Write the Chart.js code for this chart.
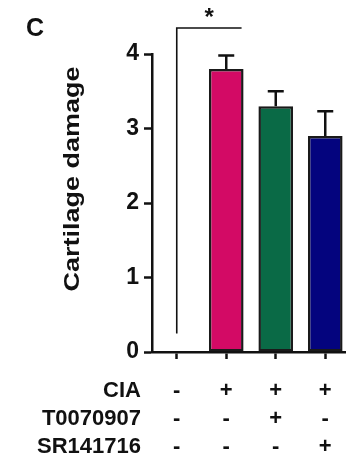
<!DOCTYPE html>
<html>
<head>
<meta charset="utf-8">
<script src="https://cdn.jsdelivr.net/npm/chart.js@4.4.1/dist/chart.umd.min.js"></script>
<style>
  html, body { margin: 0; padding: 0; background: #fff; overflow: hidden; }
  #wrap { width: 352px; height: 459px; }
</style>
</head>
<body>
<div id="wrap"><canvas id="chart" width="352" height="459"></canvas></div>
<script>
(() => {
    'use strict';

    // ─── Data ───
    const groups = ['Control', 'CIA', 'CIA+T0070907', 'CIA+SR141716'];
    const rowNames = ['CIA', 'T0070907', 'SR141716'];
    const ciaSigns = ['-', '+', '+', '+'];
    const t0070907Signs = ['-', '-', '+', '-'];
    const sr141716Signs = ['-', '-', '-', '+'];
    const means = [0, 3.8, 3.3, 2.9];
    const sem = [0, 0.18, 0.2, 0.33];
    const yTicks = [0, 1, 2, 3, 4];
    const bracketLow = 0.25;   // bracket left leg bottom
    const bracketHigh = 4.35;  // bracket top line
    const starLabel = '*';
    const panelLabel = 'C';
    const yTitle = 'Cartilage damage';

    const barColors = ['#ffffff', '#d30a65', '#0a6a46', '#04047e'];
    const borderColors = ['rgba(0,0,0,0)', '#1a1a1a', '#1a1a1a', '#1a1a1a'];

    const FONT = "'Liberation Sans', Arial, Helvetica, sans-serif";
    const TICK_LEN_X = 7, TICK_PAD_X = 18, LINE_H = 28;

    // multi-line x labels built from the sign rows
    const xLabels = groups.map((_, i) => [ciaSigns[i], t0070907Signs[i], sr141716Signs[i]]);

    // ─── Overlay: error bars, bracket, text ───
    const overlay = {
        id: 'overlay',
        afterDatasetsDraw(chart) {
            const { ctx, scales: { x, y } } = chart;
            const meta = chart.getDatasetMeta(0);
            ctx.save();
            ctx.strokeStyle = '#111';
            ctx.lineWidth = 2.5;
            meta.data.forEach((bar, i) => {
                if (!sem[i]) return;
                const top = y.getPixelForValue(means[i] + sem[i]);
                ctx.beginPath();
                ctx.moveTo(bar.x, bar.y);
                ctx.lineTo(bar.x, top);
                ctx.moveTo(bar.x - 8, top);
                ctx.lineTo(bar.x + 8, top);
                ctx.stroke();
            });

            // significance bracket: control -> CIA
            const x0 = x.getPixelForValue(0);
            const b1 = meta.data[1];
            const x1 = b1.x + b1.width / 2 - 2;
            const yLow = y.getPixelForValue(bracketLow);
            const yHigh = y.getPixelForValue(bracketHigh);
            ctx.lineWidth = 1.6;
            ctx.beginPath();
            ctx.moveTo(x0, yLow);
            ctx.lineTo(x0, yHigh);
            ctx.lineTo(x1, yHigh);
            ctx.stroke();

            ctx.fillStyle = '#111';
            ctx.font = `bold 24px ${FONT}`;
            ctx.textAlign = 'center';
            ctx.textBaseline = 'alphabetic';
            ctx.fillText(starLabel, (x0 + x1) / 2, yHigh - 3);
            ctx.restore();
        },
        afterDraw(chart) {
            const { ctx, scales: { x } } = chart;
            ctx.save();
            ctx.fillStyle = '#111';

            // panel letter
            ctx.font = `bold 25px ${FONT}`;
            ctx.textAlign = 'left';
            ctx.textBaseline = 'alphabetic';
            ctx.fillText(panelLabel, 26, 36);

            // row names aligned with the x tick label lines
            ctx.font = `bold 22px ${FONT}`;
            ctx.textAlign = 'right';
            ctx.textBaseline = 'middle';
            rowNames.forEach((name, i) => {
                ctx.fillText(name, 141, x.top + TICK_LEN_X + TICK_PAD_X + LINE_H * (i + 0.5));
            });

            // y axis title
            ctx.translate(73, 179);
            ctx.rotate(-Math.PI / 2);
            ctx.scale(1.2, 1);
            ctx.font = `bold 22.5px ${FONT}`;
            ctx.textAlign = 'center';
            ctx.textBaseline = 'middle';
            ctx.fillText(yTitle, 0, 0);
            ctx.restore();
        },
    };

    // ─── Chart ───
    const ctx = document.getElementById('chart').getContext('2d');
    new Chart(ctx, {
        type: 'bar',
        data: {
            labels: xLabels,
            datasets: [{
                data: means,
                backgroundColor: barColors,
                borderColor: borderColors,
                borderWidth: 2.5,
                borderSkipped: false,
                barPercentage: 0.7,
                categoryPercentage: 1,
            }],
        },
        options: {
            responsive: false,
            animation: false,
            devicePixelRatio: 1,
            layout: { padding: { left: 0, top: 54, right: 2, bottom: 0 } },
            plugins: {
                legend: { display: false },
                tooltip: { enabled: false },
            },
            scales: {
                x: {
                    offset: true,
                    grid: {
                        drawOnChartArea: false,
                        offset: false,
                        tickLength: TICK_LEN_X,
                        tickWidth: 2.5,
                        tickColor: '#111',
                    },
                    border: { color: '#111', width: 2.5 },
                    ticks: {
                        color: '#111',
                        padding: TICK_PAD_X,
                        maxRotation: 0,
                        font: { family: FONT, size: 22, weight: 'bold', lineHeight: LINE_H / 22 },
                    },
                    afterFit: (scale) => { scale.height = 107; },
                },
                y: {
                    min: yTicks[0],
                    max: yTicks[yTicks.length - 1],
                    afterBuildTicks: (scale) => { scale.ticks = yTicks.map(v => ({ value: v })); },
                    grid: {
                        drawOnChartArea: false,
                        tickLength: 8,
                        tickWidth: 2.5,
                        tickColor: '#111',
                    },
                    border: { color: '#111', width: 2.5 },
                    ticks: {
                        color: '#111',
                        padding: 5,
                        font: { family: FONT, size: 23, weight: 'bold' },
                    },
                    afterFit: (scale) => { scale.width = 152; },
                },
            },
        },
        plugins: [overlay],
    });
})();
</script>
</body>
</html>
